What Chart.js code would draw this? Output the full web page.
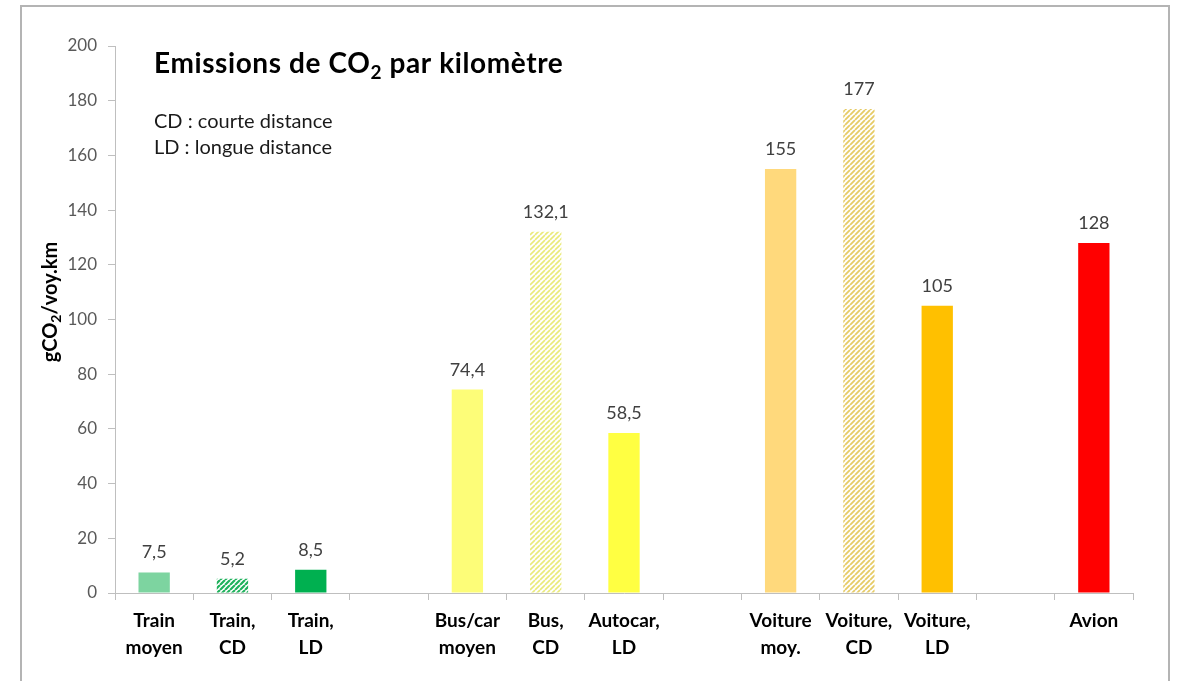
<!DOCTYPE html>
<html>
<head>
<meta charset="utf-8">
<script src="https://cdn.jsdelivr.net/npm/chart.js@4.4.1/dist/chart.umd.min.js"></script>
<style>
  html, body { margin: 0; padding: 0; background: #ffffff; }
  #wrap { position: relative; width: 1180px; height: 681px; overflow: hidden; }
  #frame { position: absolute; left: 20px; top: 5px; width: 1150px; height: 700px; border: 2px solid #b4b4b4; box-sizing: border-box; }
  canvas { position: absolute; left: 0; top: 0; }
</style>
</head>
<body>
<div id="wrap">
  <div id="frame"></div>
  <canvas id="c" width="1180" height="681"></canvas>
</div>
<script>
// ---- data ----
const categories = [
  ['Train', 'moyen'], ['Train,', 'CD'], ['Train,', 'LD'], '',
  ['Bus/car', 'moyen'], ['Bus,', 'CD'], ['Autocar,', 'LD'], '',
  ['Voiture', 'moy.'], ['Voiture,', 'CD'], ['Voiture,', 'LD'], '',
  ['Avion']
];
const emissions = [7.5, 5.2, 8.5, null, 74.4, 132.1, 58.5, null, 155, 177, 105, null, 128];
const yTicks = [0, 20, 40, 60, 80, 100, 120, 140, 160, 180, 200];
const chartTitle = ['Emissions de CO', '2', ' par kilomètre'];
const noteLines = ['CD : courte distance', 'LD : longue distance'];
const yTitle = ['gCO', '2', '/voy.km'];

// ---- styles ----
const FONT = 'Lato, "Open Sans", sans-serif';
function hatch(color, size, lw) {
  const p = document.createElement('canvas');
  p.width = size; p.height = size;
  const g = p.getContext('2d');
  g.fillStyle = '#ffffff';
  g.fillRect(0, 0, size, size);
  g.strokeStyle = color;
  g.lineWidth = lw;
  g.beginPath();
  for (let k = -1; k <= 1; k++) {
    g.moveTo(k * size, size);
    g.lineTo(k * size + size, 0);
  }
  g.stroke();
  return document.getElementById('c').getContext('2d').createPattern(p, 'repeat');
}
const barColors = [
  '#7dd4a0', hatch('#1fb15c', 5, 2.2), '#00b050', 'transparent',
  '#fdfd78', hatch('#eaea7a', 5, 1.6), '#ffff42', 'transparent',
  '#ffd97c', hatch('#e6cb66', 5, 1.8), '#ffc000', 'transparent',
  '#ff0000'
];

const overlay = {
  id: 'overlay',
  afterDatasetsDraw(chart) {
    const ctx = chart.ctx;
    const meta = chart.getDatasetMeta(0);
    ctx.save();
    // value labels
    ctx.font = '18px ' + FONT;
    ctx.fillStyle = '#404040';
    ctx.textAlign = 'center';
    ctx.textBaseline = 'alphabetic';
    meta.data.forEach((bar, i) => {
      const v = emissions[i];
      if (v === null) return;
      ctx.fillText(String(v).replace('.', ','), bar.x, bar.y - 14);
    });
    // text with subscript
    const drawSub = (parts, x, y, size, sub, spacing) => {
      ctx.textAlign = 'left';
      ctx.letterSpacing = spacing + 'px';
      ctx.font = 'bold ' + size + 'px ' + FONT;
      ctx.fillText(parts[0], x, y);
      x += ctx.measureText(parts[0]).width;
      ctx.font = 'bold ' + sub + 'px ' + FONT;
      ctx.fillText(parts[1], x, y + size * 0.22);
      x += ctx.measureText(parts[1]).width;
      ctx.font = 'bold ' + size + 'px ' + FONT;
      ctx.fillText(parts[2], x, y);
      ctx.letterSpacing = '0px';
    };
    ctx.fillStyle = '#000000';
    drawSub(chartTitle, 154, 73, 28, 19, 0.6);
    ctx.font = '20px ' + FONT;
    ctx.fillStyle = '#1a1a1a';
    ctx.textAlign = 'left';
    ctx.fillText(noteLines[0], 154, 128);
    ctx.fillText(noteLines[1], 154, 154);
    // y axis title, rotated
    ctx.save();
    ctx.translate(57, 0);
    ctx.rotate(-Math.PI / 2);
    ctx.fillStyle = '#000000';
    ctx.font = 'bold 20px ' + FONT;
    const w = ctx.measureText(yTitle[0]).width + ctx.measureText(yTitle[2]).width;
    ctx.font = 'bold 14px ' + FONT;
    const ws = ctx.measureText(yTitle[1]).width;
    drawSub(yTitle, -(302 + (w + ws) / 2), 0, 20, 14, 0);
    ctx.restore();
    ctx.restore();
  }
};

new Chart(document.getElementById('c'), {
  type: 'bar',
  data: {
    labels: categories,
    datasets: [{
      data: emissions,
      backgroundColor: barColors,
      borderWidth: 0,
      barPercentage: 0.4,
      categoryPercentage: 1.0
    }]
  },
  options: {
    responsive: false,
    animation: false,
    events: [],
    layout: { padding: { top: 46, right: 47, left: 0, bottom: 0 } },
    plugins: { legend: { display: false }, tooltip: { enabled: false }, title: { display: false } },
    scales: {
      x: {
        grid: { display: true, drawOnChartArea: false, offset: true, tickLength: 7, color: '#bfbfbf', lineWidth: 1 },
        border: { color: '#bfbfbf', width: 1 },
        ticks: { color: '#000000', font: { family: FONT, size: 19, weight: 'bold', lineHeight: '27px' }, padding: 7, maxRotation: 0, autoSkip: false },
        afterFit(s) { s.height = 88; }
      },
      y: {
        min: 0, max: 200,
        afterBuildTicks(s) { s.ticks = yTicks.map(v => ({ value: v })); },
        grid: { display: true, drawOnChartArea: false, tickLength: 7, color: '#bfbfbf', lineWidth: 1 },
        border: { color: '#bfbfbf', width: 1 },
        ticks: { color: '#595959', font: { family: FONT, size: 17 }, padding: 11 },
        afterFit(s) { s.width = 115; }
      }
    }
  },
  plugins: [overlay]
});
</script>
</body>
</html>
